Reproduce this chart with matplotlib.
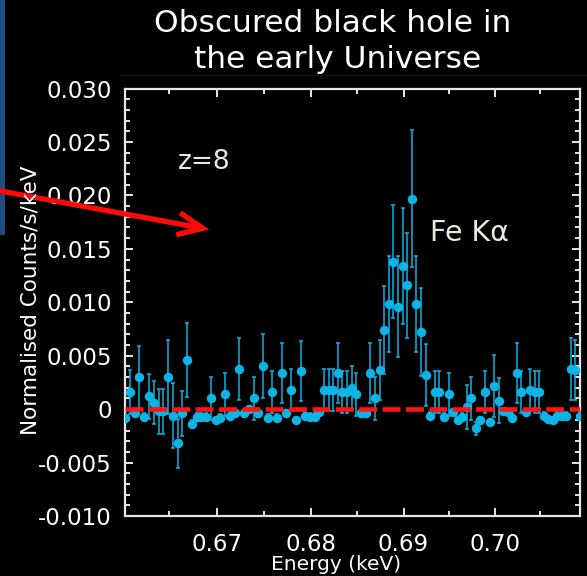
import matplotlib
matplotlib.use("Agg")
import matplotlib.pyplot as plt
from matplotlib.patches import Rectangle, FancyArrowPatch
from matplotlib.lines import Line2D
from matplotlib.ticker import FixedLocator, NullFormatter

plt.rcParams['font.family'] = ['DejaVu Sans']

energy = [0.6604, 0.6609, 0.6614, 0.6619, 0.6624, 0.6629, 0.6634, 0.6639, 0.6644, 0.6649,
          0.6654, 0.6659, 0.6664, 0.6669, 0.6674, 0.6679, 0.6684, 0.6689, 0.6694, 0.6699,
          0.6704, 0.6709, 0.6714, 0.6719, 0.6724, 0.6729, 0.6734, 0.6739, 0.6744, 0.6749,
          0.6754, 0.6759, 0.6764, 0.6769, 0.6774, 0.6779, 0.6784, 0.6789, 0.6794, 0.6799,
          0.6804, 0.6809, 0.6814, 0.6819, 0.6824, 0.6829, 0.6834, 0.6839, 0.6844, 0.6849,
          0.6854, 0.6859, 0.6864, 0.6869, 0.6874, 0.6879, 0.6884, 0.6889, 0.6894, 0.6899,
          0.6904, 0.6909, 0.6914, 0.6919, 0.6924, 0.6929, 0.6934, 0.6939, 0.6944, 0.6949,
          0.6954, 0.6959, 0.6964, 0.6969, 0.6974, 0.6979, 0.6984, 0.6989, 0.6994, 0.6999,
          0.7004, 0.7009, 0.7014, 0.7019, 0.7024, 0.7029, 0.7034, 0.7039, 0.7044, 0.7049,
          0.7054, 0.7059, 0.7064, 0.7069, 0.7074, 0.7079, 0.7084, 0.7089, 0.7094]

counts = [-0.0008, 0.0016, -0.0004, 0.0030, -0.0007, 0.0012, 0.0006, -0.0002, -0.0002, 0.0030,
          -0.0006, -0.0032, -0.0004, 0.0046, -0.0014, -0.0007, -0.0007, -0.0007, 0.0010, -0.0010,
          -0.0008, 0.0014, -0.0006, -0.0004, 0.0038, -0.0004, 0.0000, 0.0010, -0.0004, 0.0040,
          -0.0008, 0.0016, -0.0008, 0.0034, -0.0004, 0.0018, -0.0010, 0.0036, -0.0006, -0.0007,
          -0.0007, -0.0003, 0.0018, 0.0018, 0.0018, 0.0034, 0.0016, 0.0016, 0.0020, 0.0014,
          -0.0004, -0.0004, 0.0034, 0.0010, 0.0037, 0.0074, 0.0098, 0.0138, 0.0096, 0.0134,
          0.0116, 0.0197, 0.0098, 0.0072, 0.0032, -0.0006, 0.0016, 0.0016, -0.0007, 0.0014,
          -0.0003, -0.0010, -0.0007, 0.0002, 0.0010, -0.0018, -0.0010, 0.0016, -0.0012, 0.0022,
          0.0008, -0.0002, -0.0003, -0.0008, 0.0034, 0.0016, -0.0003, 0.0018, 0.0016, 0.0016,
          -0.0006, -0.0009, -0.0010, -0.0006, -0.0006, -0.0006, 0.0038, 0.0037, -0.0006]

errors = [0.0003, 0.0021, 0.0003, 0.0029, 0.0003, 0.0021, 0.0020, 0.0021, 0.0021, 0.0035,
          0.0030, 0.0023, 0.0021, 0.0035, 0.0004, 0.0003, 0.0003, 0.0003, 0.0020, 0.0003,
          0.0003, 0.0020, 0.0003, 0.0003, 0.0029, 0.0003, 0.0003, 0.0020, 0.0003, 0.0030,
          0.0003, 0.0020, 0.0003, 0.0028, 0.0003, 0.0020, 0.0003, 0.0028, 0.0003, 0.0003,
          0.0003, 0.0003, 0.0020, 0.0020, 0.0020, 0.0028, 0.0020, 0.0020, 0.0020, 0.0020,
          0.0003, 0.0003, 0.0028, 0.0020, 0.0028, 0.0041, 0.0045, 0.0053, 0.0047, 0.0054,
          0.0049, 0.0064, 0.0045, 0.0041, 0.0029, 0.0003, 0.0020, 0.0020, 0.0003, 0.0020,
          0.0003, 0.0003, 0.0003, 0.0021, 0.0020, 0.0006, 0.0003, 0.0020, 0.0003, 0.0029,
          0.0021, 0.0003, 0.0003, 0.0003, 0.0028, 0.0020, 0.0003, 0.0020, 0.0020, 0.0020,
          0.0003, 0.0003, 0.0003, 0.0003, 0.0003, 0.0003, 0.0029, 0.0028, 0.0003]

model_energy = [0.6604, 0.7094]
model_counts = [0.0, 0.0]

xticks = [0.67, 0.68, 0.69, 0.70]
xticklabels = ['0.67', '0.68', '0.69', '0.70']
xminor = [0.665, 0.675, 0.685, 0.695, 0.705]
yticks = [-0.010, -0.005, 0.0, 0.005, 0.010, 0.015, 0.020, 0.025, 0.030]
yticklabels = ['-0.010', '-0.005', '0', '0.005', '0.010', '0.015', '0.020', '0.025', '0.030']
yminor = [v / 1000 for v in range(-10, 31)]

W, H = 587, 576
fig = plt.figure(figsize=(W / 100, H / 100), dpi=100, facecolor='black')
ax = fig.add_axes([124.5 / W, 1 - 516 / H, (580 - 124.5) / W, (516 - 88.5) / H])
ax.set_facecolor('black')

ptcol = '#0db4e6'
ax.errorbar(energy, counts, yerr=errors, fmt='o', color=ptcol, ecolor=ptcol,
            markersize=5.8, elinewidth=1.1, capsize=1.6, capthick=1.1, zorder=3)
ax.plot(model_energy, model_counts, color='#ff1414', lw=3.3,
        dashes=(3.9, 1.2), zorder=4)

ax.set_xscale('log')
ax.set_xlim(0.66035, 0.70943)
ax.set_ylim(-0.010, 0.030)
ax.xaxis.set_major_locator(FixedLocator(xticks))
ax.xaxis.set_minor_locator(FixedLocator(xminor))
ax.set_xticklabels(xticklabels)
ax.xaxis.set_minor_formatter(NullFormatter())
ax.yaxis.set_major_locator(FixedLocator(yticks))
ax.set_yticklabels(yticklabels)
ax.yaxis.set_minor_locator(FixedLocator(yminor))

wc = '#e6e6e6'
for s in ax.spines.values():
    s.set_color(wc)
    s.set_linewidth(1.6)
ax.tick_params(which='both', direction='in', top=True, right=True, colors=wc,
               labelcolor='white', width=1.4)
ax.tick_params(which='major', length=6, labelsize=16.5, pad=9)
ax.tick_params(which='minor', length=3.5)
ax.tick_params(axis='x', which='major', pad=12)

fig.text(336 / W, 1 - 564 / H, 'Energy (keV)', color='white', fontsize=14.5,
         ha='center', va='center')
fig.text(31 / W, 1 - 300 / H, 'Normalised Counts/s/keV', color='white', fontsize=15.5,
         ha='center', va='center', rotation=90)

fig.text(333 / W, 1 - 24 / H, 'Obscured black hole in', color='white', fontsize=22.5,
         ha='center', va='center')
fig.text(338 / W, 1 - 60 / H, 'the early Universe', color='white', fontsize=22.5,
         ha='center', va='center')

fig.text(204 / W, 1 - 162 / H, 'z=8', color='#ebe8dc', fontsize=19,
         ha='center', va='center')
fig.text(469 / W, 1 - 233 / H, 'Fe K\u03b1', color='#ebe8dc', fontsize=20.5,
         ha='center', va='center')

fig.add_artist(Rectangle((0, 1 - 235 / H), 5 / W, 235 / H, transform=fig.transFigure,
                         facecolor='#1b4e7f', edgecolor='none'))
fig.add_artist(Line2D([120 / W, 1], [1 - 75 / H, 1 - 75 / H], transform=fig.transFigure,
                      color='#141414', lw=0.8))

fig.add_artist(FancyArrowPatch(
    (-5 / W, 1 - 190 / H), (212 / W, 1 - 230 / H), transform=fig.transFigure,
    arrowstyle='->,head_length=1.8,head_width=0.8', mutation_scale=10,
    color='#ff0a0a', lw=3.8, joinstyle='miter', capstyle='butt'))

fig.savefig('out.png', dpi=100, facecolor='black')
